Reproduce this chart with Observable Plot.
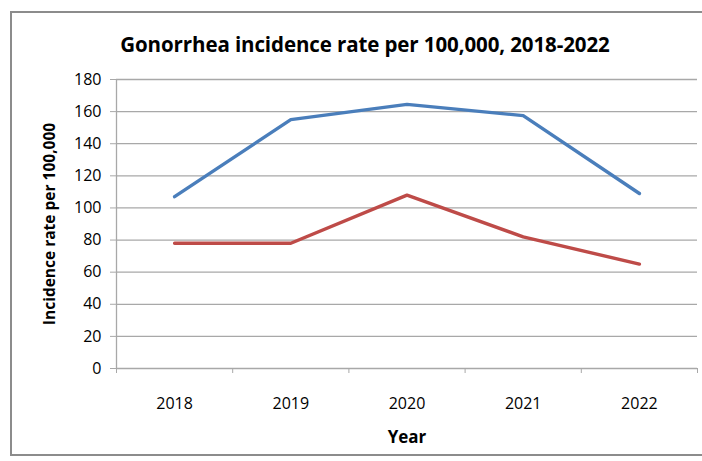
<!DOCTYPE html>
<html><head><meta charset="utf-8">
<script src="https://cdn.jsdelivr.net/npm/d3@7"></script>
<script src="https://cdn.jsdelivr.net/npm/@observablehq/plot@0.6"></script>
<style>
html,body{margin:0;padding:0;background:#fff;overflow:hidden;}
#wrap{position:relative;width:702px;height:461px;}
#border{position:absolute;left:10px;top:11px;width:740px;height:445px;border:2px solid #8c8c8c;box-sizing:border-box;}
#title{position:absolute;left:0;width:730px;top:30px;text-align:center;font:bold 20.5px "Open Sans",sans-serif;color:#000;letter-spacing:-0.1px;}
#chart{position:absolute;left:0;top:0;}
</style></head>
<body><div id="wrap"><div id="border"></div><div id="title">Gonorrhea incidence rate per 100,000, 2018-2022</div><div id="chart"></div></div>
<script>
const years = [2018, 2019, 2020, 2021, 2022];
const seriesBlue = [107, 155, 164.5, 157.5, 109];
const seriesRed = [78, 78, 108, 82, 65];
const yTicks = [0, 20, 40, 60, 80, 100, 120, 140, 160, 180];
const xLabel = "Year";
const yLabel = "Incidence rate per 100,000";

const blue = years.map((y, i) => ({year: y, value: seriesBlue[i]}));
const red = years.map((y, i) => ({year: y, value: seriesRed[i]}));
const boundaries = [...years.map(y => y - 0.5), years[years.length - 1] + 0.5];

const font = '"Open Sans", sans-serif';
const plot = Plot.plot({
  width: 702, height: 461,
  marginLeft: 116, marginRight: 5, marginTop: 79, marginBottom: 93,
  style: {fontFamily: font, fontSize: "16px", color: "#000", background: "transparent"},
  x: {domain: [years[0] - 0.5, years[years.length - 1] + 0.5]},
  y: {domain: [0, 180]},
  marks: [
    Plot.ruleY(yTicks, {stroke: "#a8a8a8", strokeWidth: 1.3}),
    Plot.ruleX([years[0] - 0.5], {stroke: "#a8a8a8", strokeWidth: 1.3}),
    Plot.axisY({ticks: yTicks, tickSize: 6, tickPadding: 9, stroke: "#a8a8a8", label: null, fontSize: 16}),
    Plot.axisX({ticks: boundaries, tickSize: 5, tickFormat: () => "", stroke: "#a8a8a8", label: null}),
    Plot.axisX({ticks: years, tickSize: 0, tickPadding: 29, tickFormat: d => String(d), label: null, fontSize: 16}),
    Plot.lineY(blue, {x: "year", y: "value", stroke: "#4a7ebb", strokeWidth: 3.4}),
    Plot.lineY(red, {x: "year", y: "value", stroke: "#be4b48", strokeWidth: 3.4}),
    Plot.text([xLabel], {frameAnchor: "bottom", dy: 74, fontWeight: "bold", fontSize: 17, fill: "#000"}),
    Plot.text([yLabel], {frameAnchor: "left", dx: -66, rotate: -90, textAnchor: "middle", fontWeight: "bold", fontSize: 15.5, fill: "#000"})
  ]
});
document.getElementById("chart").appendChild(plot);
</script></body></html>
